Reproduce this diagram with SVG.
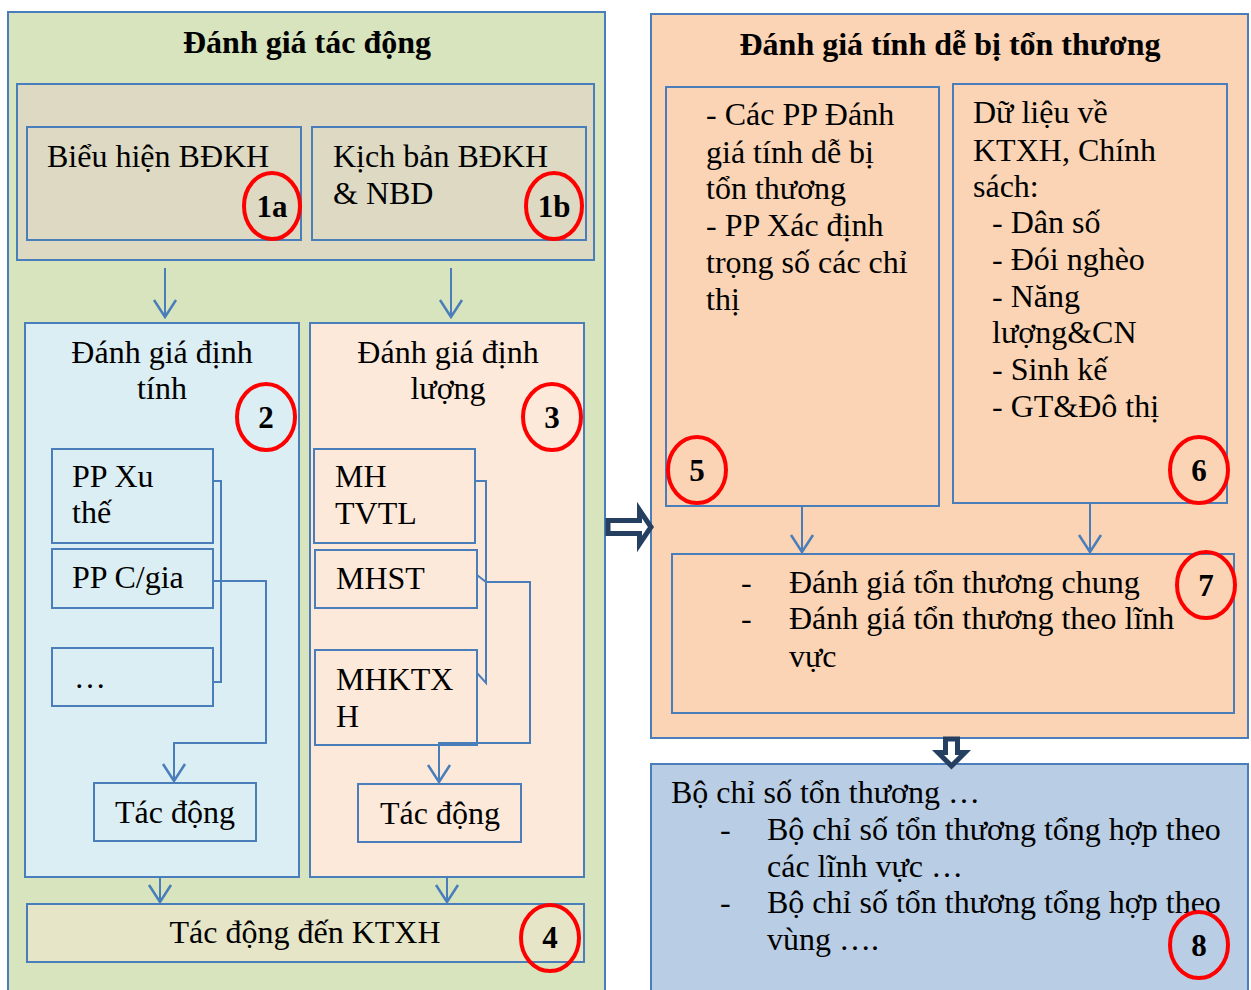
<svg xmlns="http://www.w3.org/2000/svg" width="1251" height="990" viewBox="0 0 1251 990">
<style>
.bx{stroke:#4a7ebb;stroke-width:2}
.t{font-family:"Liberation Serif","Times New Roman",serif;font-size:32px;fill:#000}
.b{font-weight:bold}
.c{text-anchor:middle}
.n{font-family:"Liberation Serif","Times New Roman",serif;font-size:31px;font-weight:bold;text-anchor:middle;fill:#000}
.ring{fill:none;stroke:#ff0000;stroke-width:4}
.cn{fill:none;stroke:#4a7ebb;stroke-width:2}
.blk{fill:#fff;stroke:#243f60;stroke-width:5;stroke-linejoin:miter}
</style>
<defs>
<marker id="ah" viewBox="-18 -13 20 26" markerWidth="20" markerHeight="26" refX="0" refY="0" orient="auto" markerUnits="userSpaceOnUse">
<path d="M-17,-11 L0,0 L-17,11" fill="none" stroke="#4a7ebb" stroke-width="2.5"/>
</marker>
</defs>
<rect width="1251" height="990" fill="#fff"/>

<g id="panel-left">
<rect class="bx" x="8" y="12" width="597" height="990" fill="#d7e4bd"/>
<text class="t b c" x="307" y="53">Đánh giá tác động</text>
</g>
<g id="group-1">
<rect class="bx" x="17" y="84" width="577" height="176" fill="#ddd9c3"/>
</g>
<g id="node-1a">
<rect class="bx" x="27" y="127" width="274" height="113" fill="#ddd9c3"/>
<text class="t" x="47" y="167">Biểu hiện BĐKH</text>
<ellipse class="ring" cx="272" cy="206" rx="28" ry="33"/>
<text class="n" x="272" y="217">1a</text>
</g>
<g id="node-1b">
<rect class="bx" x="312" y="127" width="274" height="113" fill="#ddd9c3"/>
<text class="t" x="333" y="167">Kịch bản BĐKH</text>
<text class="t" x="333" y="204">&amp; NBD</text>
<ellipse class="ring" cx="554" cy="206" rx="28" ry="33"/>
<text class="n" x="554" y="217">1b</text>
</g>
<g id="node-2">
<rect class="bx" x="25" y="323" width="274" height="554" fill="#dbeef4"/>
<text class="t c" x="162" y="363">Đánh giá định</text>
<text class="t c" x="162" y="399">tính</text>
<ellipse class="ring" cx="266" cy="417" rx="29" ry="33"/>
<text class="n" x="266" y="428">2</text>
</g>
<g id="node-3">
<rect class="bx" x="310" y="323" width="274" height="554" fill="#fde9d9"/>
<text class="t c" x="448" y="363">Đánh giá định</text>
<text class="t c" x="448" y="399">lượng</text>
<ellipse class="ring" cx="552" cy="417" rx="29" ry="33"/>
<text class="n" x="552" y="428">3</text>
</g>
<g id="node-pp-xuthe">
<rect class="bx" x="52" y="449" width="161" height="94" fill="#dbeef4"/>
<text class="t" x="72" y="487">PP Xu</text>
<text class="t" x="72" y="523">thế</text>
</g>
<g id="node-pp-cgia">
<rect class="bx" x="52" y="549" width="161" height="59" fill="#dbeef4"/>
<text class="t" x="72" y="588">PP C/gia</text>
</g>
<g id="node-etc">
<rect class="bx" x="52" y="648" width="161" height="58" fill="#dbeef4"/>
<text class="t" x="74" y="688">…</text>
</g>
<g id="node-tacdong-l">
<rect class="bx" x="94" y="783" width="162" height="58" fill="#dbeef4"/>
<text class="t c" x="175" y="823">Tác động</text>
</g>
<g id="node-mhtvtl">
<rect class="bx" x="314" y="449" width="161" height="94" fill="#fde9d9"/>
<text class="t" x="335" y="487">MH</text>
<text class="t" x="335" y="524">TVTL</text>
</g>
<g id="node-mhst">
<rect class="bx" x="315" y="550" width="162" height="58" fill="#fde9d9"/>
<text class="t" x="336" y="589">MHST</text>
</g>
<g id="node-mhktxh">
<rect class="bx" x="315" y="650" width="162" height="95" fill="#fde9d9"/>
<text class="t" x="336" y="690">MHKTX</text>
<text class="t" x="336" y="727">H</text>
</g>
<g id="node-tacdong-r">
<rect class="bx" x="358" y="784" width="163" height="58" fill="#fde9d9"/>
<text class="t c" x="440" y="824">Tác động</text>
</g>
<g id="node-4">
<rect class="bx" x="27" y="904" width="557" height="58" fill="#e6e5c7"/>
<text class="t c" x="305" y="943">Tác động đến KTXH</text>
<ellipse class="ring" cx="550" cy="938" rx="29" ry="33"/>
<text class="n" x="550" y="948">4</text>
</g>

<g id="panel-right">
<rect class="bx" x="651" y="14" width="597" height="724" fill="#fad4b4"/>
<text class="t b c" x="950" y="55">Đánh giá tính dễ bị tổn thương</text>
</g>
<g id="node-5">
<rect class="bx" x="666" y="87" width="273" height="419" fill="#fad4b4"/>
<text class="t" x="706" y="125">- Các PP Đánh</text>
<text class="t" x="706" y="163">giá tính dễ bị</text>
<text class="t" x="706" y="199">tổn thương</text>
<text class="t" x="706" y="236">- PP Xác định</text>
<text class="t" x="706" y="273">trọng số các chỉ</text>
<text class="t" x="706" y="310">thị</text>
<ellipse class="ring" cx="697" cy="470" rx="29" ry="33"/>
<text class="n" x="697" y="481">5</text>
</g>
<g id="node-6">
<rect class="bx" x="953" y="84" width="274" height="419" fill="#fad4b4"/>
<text class="t" x="973" y="123">Dữ liệu về</text>
<text class="t" x="973" y="161">KTXH, Chính</text>
<text class="t" x="973" y="197">sách:</text>
<text class="t" x="992" y="233">- Dân số</text>
<text class="t" x="992" y="270">- Đói nghèo</text>
<text class="t" x="992" y="307">- Năng</text>
<text class="t" x="992" y="343">lượng&amp;CN</text>
<text class="t" x="992" y="380">- Sinh kế</text>
<text class="t" x="992" y="417">- GT&amp;Đô thị</text>
<ellipse class="ring" cx="1199" cy="470" rx="29" ry="33"/>
<text class="n" x="1199" y="481">6</text>
</g>
<g id="node-7">
<rect class="bx" x="672" y="554" width="562" height="159" fill="#fad4b4"/>
<text class="t" x="741" y="593">-</text>
<text class="t" x="789" y="593">Đánh giá tổn thương chung</text>
<text class="t" x="741" y="629">-</text>
<text class="t" x="789" y="629">Đánh giá tổn thương theo lĩnh</text>
<text class="t" x="789" y="667">vực</text>
<ellipse class="ring" cx="1206" cy="585" rx="29" ry="33"/>
<text class="n" x="1206" y="596">7</text>
</g>
<g id="node-8">
<rect class="bx" x="651" y="764" width="597" height="240" fill="#b9cde5"/>
<text class="t" x="671" y="803">Bộ chỉ số tổn thương …</text>
<text class="t" x="720" y="840">-</text>
<text class="t" x="767" y="840">Bộ chỉ số tổn thương tổng hợp theo</text>
<text class="t" x="767" y="877">các lĩnh vực …</text>
<text class="t" x="720" y="913">-</text>
<text class="t" x="767" y="913">Bộ chỉ số tổn thương tổng hợp theo</text>
<text class="t" x="767" y="950">vùng ….</text>
<ellipse class="ring" cx="1199" cy="945" rx="29" ry="33"/>
<text class="n" x="1199" y="956">8</text>
</g>

<g id="connectors">
<path class="cn" d="M165,268 V317" marker-end="url(#ah)"/>
<path class="cn" d="M451,268 V317" marker-end="url(#ah)"/>
<path class="cn" d="M213,481 H221 V682 H213"/>
<path class="cn" d="M213,581 H266 V743 H174 V781" marker-end="url(#ah)"/>
<path class="cn" d="M475,481 H486 V683 L477,673"/>
<path class="cn" d="M477,575 L486,582 H530 V743 H439 V782" marker-end="url(#ah)"/>
<path class="cn" d="M160,878 V902" marker-end="url(#ah)"/>
<path class="cn" d="M447,878 V902" marker-end="url(#ah)"/>
<path class="cn" d="M802,506 V552" marker-end="url(#ah)"/>
<path class="cn" d="M1090,503 V552" marker-end="url(#ah)"/>
<polygon class="blk" points="608,520.5 639.5,520.5 639.5,510 651,527 639.5,544 639.5,533.5 608,533.5"/>
<polygon class="blk" points="945.5,739 957.5,739 957.5,752.5 965,752.5 951.5,766 938,752.5 945.5,752.5"/>
</g>
</svg>
